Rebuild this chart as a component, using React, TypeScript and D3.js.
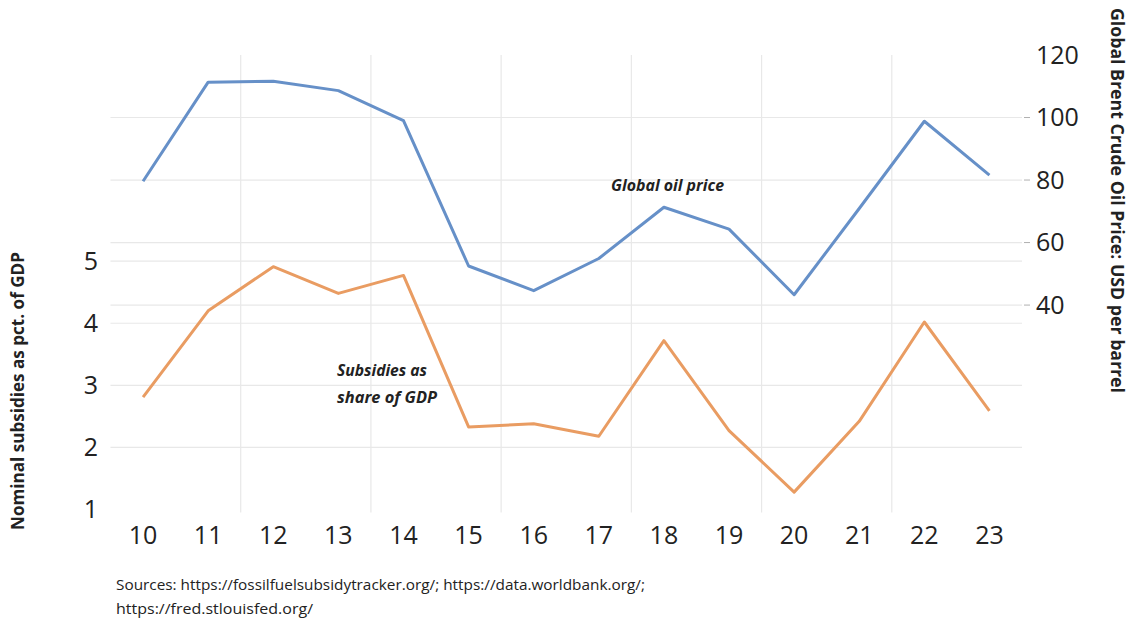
import * as d3 from "d3";

// years (20xx) shown on the category axis
const years = ["10", "11", "12", "13", "14", "15", "16", "17", "18", "19", "20", "21", "22", "23"];
// nominal fossil fuel subsidies, % of GDP (left axis)
const subsidies = [2.81, 4.2, 4.91, 4.48, 4.77, 2.33, 2.38, 2.18, 3.72, 2.27, 1.28, 2.42, 4.02, 2.59];
// Brent crude, USD per barrel (right axis)
const oilPrice = [79.6, 111.3, 111.6, 108.6, 99.0, 52.5, 44.6, 54.9, 71.3, 64.3, 43.3, 70.9, 98.8, 81.6];

const leftTicks = [1, 2, 3, 4, 5];
const rightTicks = [40, 60, 80, 100, 120];

const W = 1135;
const H = 622;
const margin = { top: 55, right: 113, bottom: 112.5, left: 110.5 };

const FONT = "'Open Sans', 'Noto Sans', sans-serif";
const BLUE = "#6690c8";
const ORANGE = "#e99c62";
const GRID = "#e8e8e8";

export default function App() {
  const x0 = margin.left;
  const x1 = W - margin.right;
  const y0 = H - margin.bottom;
  const y1 = margin.top;

  const x = d3.scaleBand().domain(years).range([x0, x1]);
  const bw = x.bandwidth();
  const cx = (d: string) => (x(d) as number) + bw / 2;

  const yLeft = d3.scaleLinear().domain([1, 8.32]).range([y0, y1]);
  const yRight = d3.scaleLinear().domain([-25.4, 120]).range([y0, y1]);

  const subLine = d3
    .line<number>()
    .x((_, i) => cx(years[i]))
    .y((d) => yLeft(d));
  const oilLine = d3
    .line<number>()
    .x((_, i) => cx(years[i]))
    .y((d) => yRight(d));

  // vertical grid at every second category boundary
  const vGrid = d3.range(2, years.length, 2).map((i) => x0 + i * bw);

  return (
    <svg width={W} height={H} style={{ position: "absolute", left: 0, top: 0 }}>
      <rect width={W} height={H} fill="#fff" />

      {/* gridlines */}
      <g stroke={GRID} strokeWidth={1.2}>
        {vGrid.map((gx) => (
          <line key={"v" + gx} x1={gx} x2={gx} y1={y1} y2={y0 + 3} />
        ))}
        {leftTicks.slice(1).map((t) => (
          <line key={"l" + t} x1={x0} x2={x1} y1={yLeft(t)} y2={yLeft(t)} />
        ))}
        {rightTicks.slice(0, -1).map((t) => (
          <line key={"r" + t} x1={x0} x2={x1} y1={yRight(t)} y2={yRight(t)} />
        ))}
      </g>

      {/* right axis tick marks */}
      <g stroke="#b0b0b0" strokeWidth={1}>
        {rightTicks.slice(0, -1).map((t) => (
          <line key={"rt" + t} x1={x1 + 2} x2={x1 + 8} y1={yRight(t)} y2={yRight(t)} />
        ))}
      </g>

      {/* series */}
      <path d={oilLine(oilPrice) ?? ""} fill="none" stroke={BLUE} strokeWidth={3} strokeLinejoin="round" />
      <path d={subLine(subsidies) ?? ""} fill="none" stroke={ORANGE} strokeWidth={3} strokeLinejoin="round" />

      {/* left axis labels */}
      <g fontFamily={FONT} fontSize={25} fill="#222" textAnchor="end">
        {leftTicks.map((t) => (
          <text key={"lt" + t} x={98} y={yLeft(t)} dy="0.35em">
            {t}
          </text>
        ))}
      </g>

      {/* right axis labels */}
      <g fontFamily={FONT} fontSize={25} fill="#222" textAnchor="start">
        {rightTicks.map((t) => (
          <text key={"rl" + t} x={x1 + 14} y={yRight(t)} dy="0.35em">
            {t}
          </text>
        ))}
      </g>

      {/* category labels */}
      <g fontFamily={FONT} fontSize={25} fill="#222" textAnchor="middle">
        {years.map((d) => (
          <text key={"c" + d} x={cx(d)} y={544}>
            {d}
          </text>
        ))}
      </g>

      {/* axis titles */}
      <text
        transform={`translate(24,${(252 + 530) / 2}) rotate(-90)`}
        textAnchor="middle"
        fontFamily={FONT}
        fontWeight="bold"
        fontSize={17}
        fill="#222"
        textLength={278}
        lengthAdjust="spacingAndGlyphs"
      >
        Nominal subsidies as pct. of GDP
      </text>
      <text
        transform={`translate(1111,${(8 + 393) / 2}) rotate(90)`}
        textAnchor="middle"
        fontFamily={FONT}
        fontWeight="bold"
        fontSize={17}
        fill="#222"
        textLength={385}
        lengthAdjust="spacingAndGlyphs"
      >
        Global Brent Crude Oil Price:  USD per barrel
      </text>

      {/* annotations */}
      <g fontFamily={FONT} fontWeight="bold" fontStyle="italic" fontSize={16} fill="#222">
        <text x={611} y={191} textLength={113} lengthAdjust="spacingAndGlyphs">
          Global oil price
        </text>
        <text x={337} y={376} textLength={90} lengthAdjust="spacingAndGlyphs">
          Subsidies as
        </text>
        <text x={337} y={403} textLength={100} lengthAdjust="spacingAndGlyphs">
          share of GDP
        </text>
      </g>

      {/* source note */}
      <g fontFamily={FONT} fontSize={14.5} fill="#222">
        <text x={116} y={590} textLength={529} lengthAdjust="spacingAndGlyphs">
          Sources:  https://fossilfuelsubsidytracker.org/; https://data.worldbank.org/;
        </text>
        <text x={116} y={614} textLength={197} lengthAdjust="spacingAndGlyphs">
          https://fred.stlouisfed.org/
        </text>
      </g>
    </svg>
  );
}
